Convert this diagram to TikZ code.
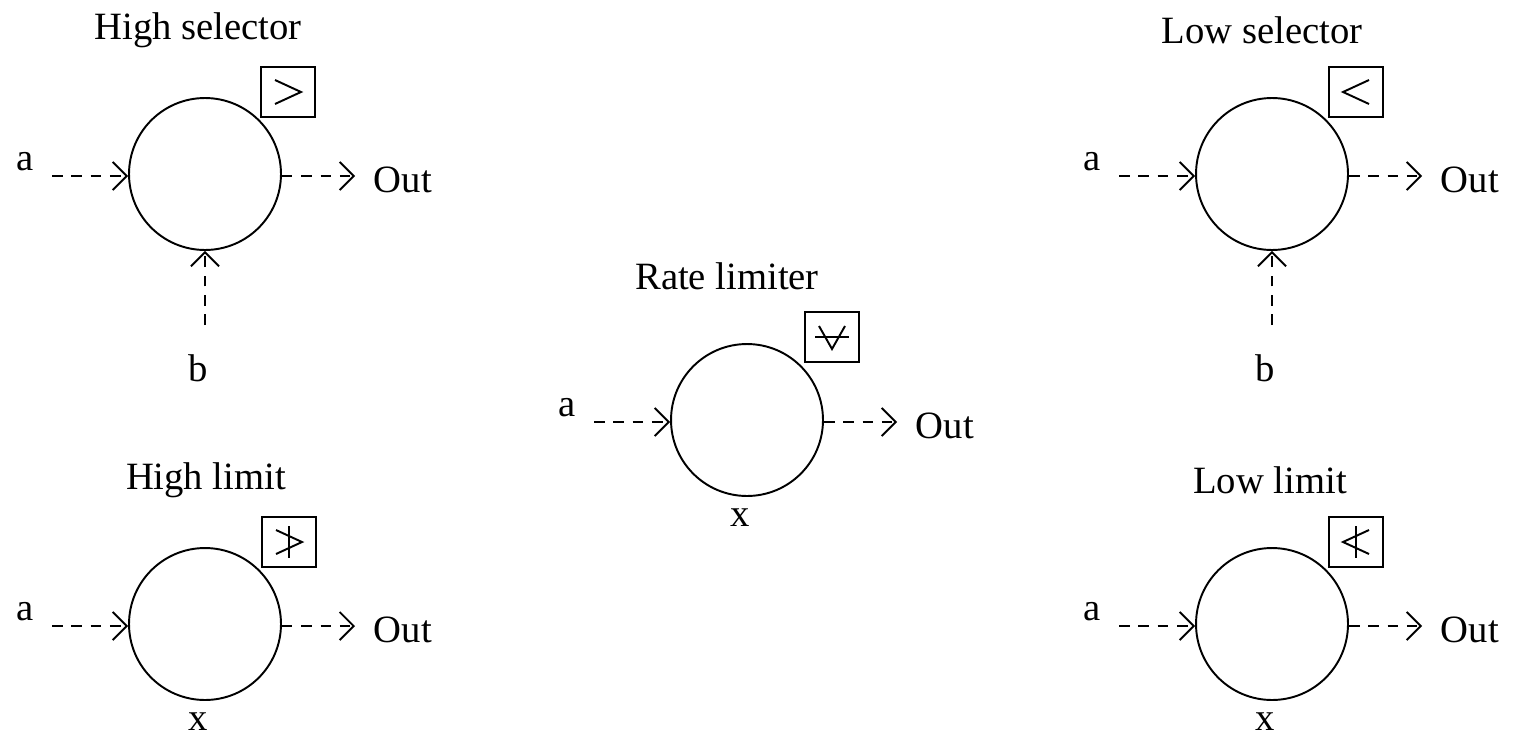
\documentclass[tikz,border=0pt]{standalone}
\usepackage{fontspec}
\setmainfont{Liberation Serif}
\usetikzlibrary{arrows.meta}
\begin{document}
\begin{tikzpicture}[x=0.02cm,y=-0.02cm,line width=1.1pt,
  blk/.style={circle,draw,minimum size=3.04cm,inner sep=0pt},
  sym/.style={draw,minimum width=1.08cm,minimum height=1.0cm,inner sep=0pt},
  lbl/.style={font=\fontsize{22}{24}\selectfont,inner sep=0pt},
  sig/.style={dashed,dash pattern=on 6pt off 5pt,-{Straight Barb[length=8pt,width=16pt]}}]
\useasboundingbox (0,0) rectangle (1533,754);
% generic block macro via foreach
\foreach \n/\cx/\cy/\bx/\by in {hs/205/174/288/92,ls/1272/174/1356/92,rl/747/420/832/337,hl/205/624/289/542,ll/1272/624/1356/542}{
  \node[blk] (\n) at (\cx,\cy) {};
  \node[sym] (\n b) at (\bx,\by) {};
  \coordinate (\n a) at (\cx-153,\cy+2);
  \coordinate (\n o) at (\cx+150,\cy+2);
  \draw[sig] (\n a) -- (\n.west|-\n a);
  \draw[sig] (\n.east|-\n o) -- (\n o);
}
\node[lbl] (hst) at (198,30) {High selector};
\node[lbl] (lst) at (1262,30) {Low selector};
\node[lbl] (rlt) at (727,276) {Rate limiter};
\node[lbl] (hlt) at (206,480) {High limit};
\node[lbl] (llt) at (1270,480) {Low limit};
\foreach \n/\cx/\cy in {hs/205/174,ls/1272/174,rl/747/420,hl/205/624,ll/1272/624}{
  \node[lbl] (\n la) at (\cx-180,\cy-12) {a};
  \node[lbl,anchor=west] (\n lo) at (\cx+168,\cy+6) {Out};
}
\foreach \n/\cx/\cy in {rl/747/420,hl/205/624,ll/1272/624}{
  \node[lbl] (\n lx) at (\cx-7,\cy+98) {x};
}
\foreach \n/\cx/\cy in {hs/205/174,ls/1272/174}{
  \coordinate (\n bb) at (\cx,\cy+151);
  \draw[sig] (\n bb) -- (\n.south);
  \node[lbl] (\n lb) at (\cx-7,\cy+194) {b};
}
% symbols
\draw ([shift={(-13,-12)}]hsb.center) -- ([shift={(13,0)}]hsb.center) -- ([shift={(-13,12)}]hsb.center);
\draw ([shift={(13,-12)}]lsb.center) -- ([shift={(-13,0)}]lsb.center) -- ([shift={(13,12)}]lsb.center);
\draw ([shift={(-13,-12)}]hlb.center) -- ([shift={(13,0)}]hlb.center) -- ([shift={(-13,12)}]hlb.center);
\draw ([shift={(0,-16)}]hlb.center) -- ([shift={(0,16)}]hlb.center);
\draw ([shift={(13,-12)}]llb.center) -- ([shift={(-13,0)}]llb.center) -- ([shift={(13,12)}]llb.center);
\draw ([shift={(0,-16)}]llb.center) -- ([shift={(0,16)}]llb.center);
\draw ([shift={(-13,-11)}]rlb.center) -- ([shift={(0,12)}]rlb.center) -- ([shift={(13,-11)}]rlb.center);
\draw ([shift={(-17,0)}]rlb.center) -- ([shift={(17,0)}]rlb.center);
\end{tikzpicture}
\end{document}
